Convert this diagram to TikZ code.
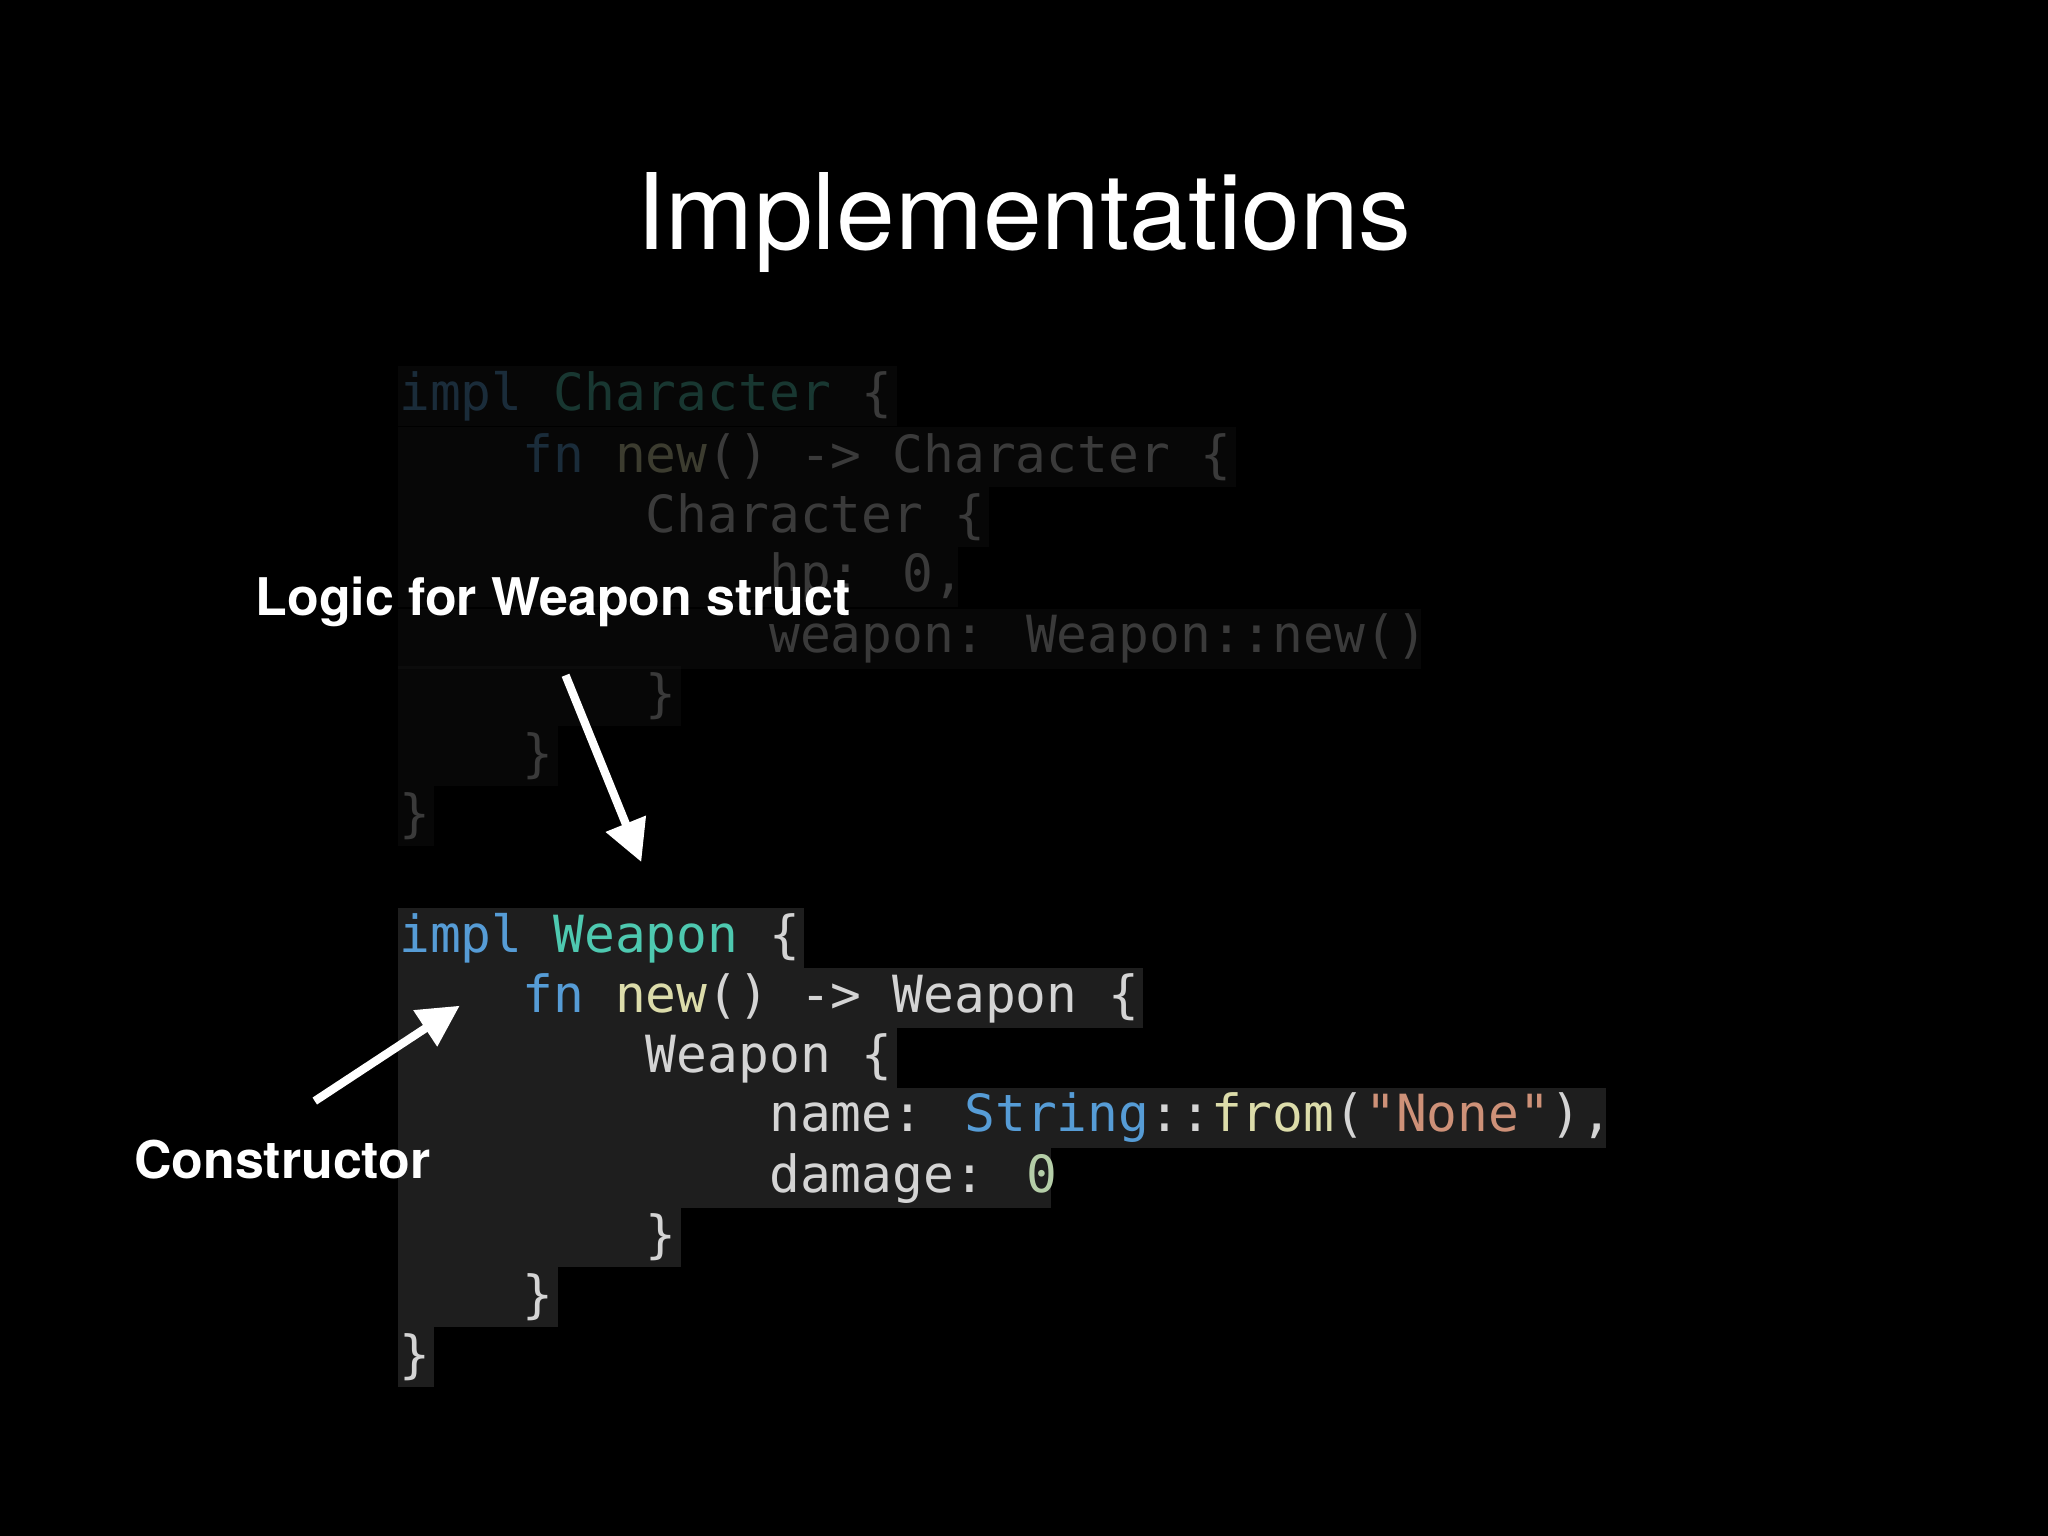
\documentclass[tikz,border=0pt]{standalone}
\usepackage{fontspec}
\setmainfont{TeX Gyre Heros}
\newfontfamily\codefont{DejaVu Sans Mono}
\usetikzlibrary{arrows.meta}
\definecolor{kw}{HTML}{569CD6}
\definecolor{ty}{HTML}{4EC9B0}
\definecolor{fnc}{HTML}{DCDCAA}
\definecolor{txt}{HTML}{D4D4D4}
\definecolor{strc}{HTML}{CE9178}
\definecolor{numc}{HTML}{B5CEA8}
\definecolor{hl}{HTML}{1E1E1E}
\tikzset{
  codetxt/.style={anchor=west,inner sep=0pt,font=\codefont\fontsize{11.15}{13}\selectfont,text=txt},
  lbl/.style={text=white,font=\bfseries\fontsize{11.3}{13}\selectfont,inner sep=0pt},
  warrow/.style={draw=white,line width=1.8pt,-{Triangle[length=9pt,width=9pt]}}
}
% \cl{name}{y}{indent}{total}{fill}{text}
\newcommand{\cl}[6]{%
  \fill[#5] (305,#2-20) rectangle ({305+#4*23.6+4},#2+26);
  \node[codetxt] (#1) at ({305+#3*23.6},#2+3) {#6};}
\begin{document}
\begin{tikzpicture}[x=0.01cm,y=-0.01cm]
\fill[black] (0,0) rectangle (1568,1176);
\node[text=white,font=\fontsize{23}{28}\selectfont] (title) at (784,170) {Implementations};
% dimmed block
\begin{scope}[opacity=0.25]
\cl{a1}{300}{0}{16}{hl}{\textcolor{kw}{impl} \textcolor{ty}{Character} \{}
\cl{a2}{347}{4}{27}{hl}{\textcolor{kw}{fn} \textcolor{fnc}{new}() -> Character \{}
\cl{a3}{393}{8}{19}{hl}{Character \{}
\cl{a4}{439}{12}{18}{hl}{hp: 0,}
\cl{a5}{486}{12}{33}{hl}{weapon: Weapon::new()}
\cl{a6}{530}{8}{9}{hl}{\}}
\cl{a7}{576}{4}{5}{hl}{\}}
\cl{a8}{622}{0}{1}{hl}{\}}
\end{scope}
% bright block
\cl{b1}{715}{0}{13}{hl}{\textcolor{kw}{impl} \textcolor{ty}{Weapon} \{}
\cl{b2}{761}{4}{24}{hl}{\textcolor{kw}{fn} \textcolor{fnc}{new}() -> Weapon \{}
\cl{b3}{807}{8}{16}{hl}{Weapon \{}
\cl{b4}{853}{12}{39}{hl}{name: \textcolor{kw}{String}::\textcolor{fnc}{from}(\textcolor{strc}{"None"}),}
\cl{b5}{899}{12}{21}{hl}{damage: \textcolor{numc}{0}}
\cl{b6}{944}{8}{9}{hl}{\}}
\cl{b7}{990}{4}{5}{hl}{\}}
\cl{b8}{1036}{0}{1}{hl}{\}}
% labels
\node[lbl,anchor=west] (l1) at (195,461) {Logic for Weapon struct};
\node[lbl,anchor=west] (l2) at (102,888) {Constructor};
\coordinate (s1) at (433,517);
\coordinate (e1) at (491,660);
\coordinate (s2) at (241,843);
\coordinate (e2) at (352,770);
\draw[warrow] (s1) -- (e1);
\draw[warrow] (s2) -- (e2);
\end{tikzpicture}
\end{document}
